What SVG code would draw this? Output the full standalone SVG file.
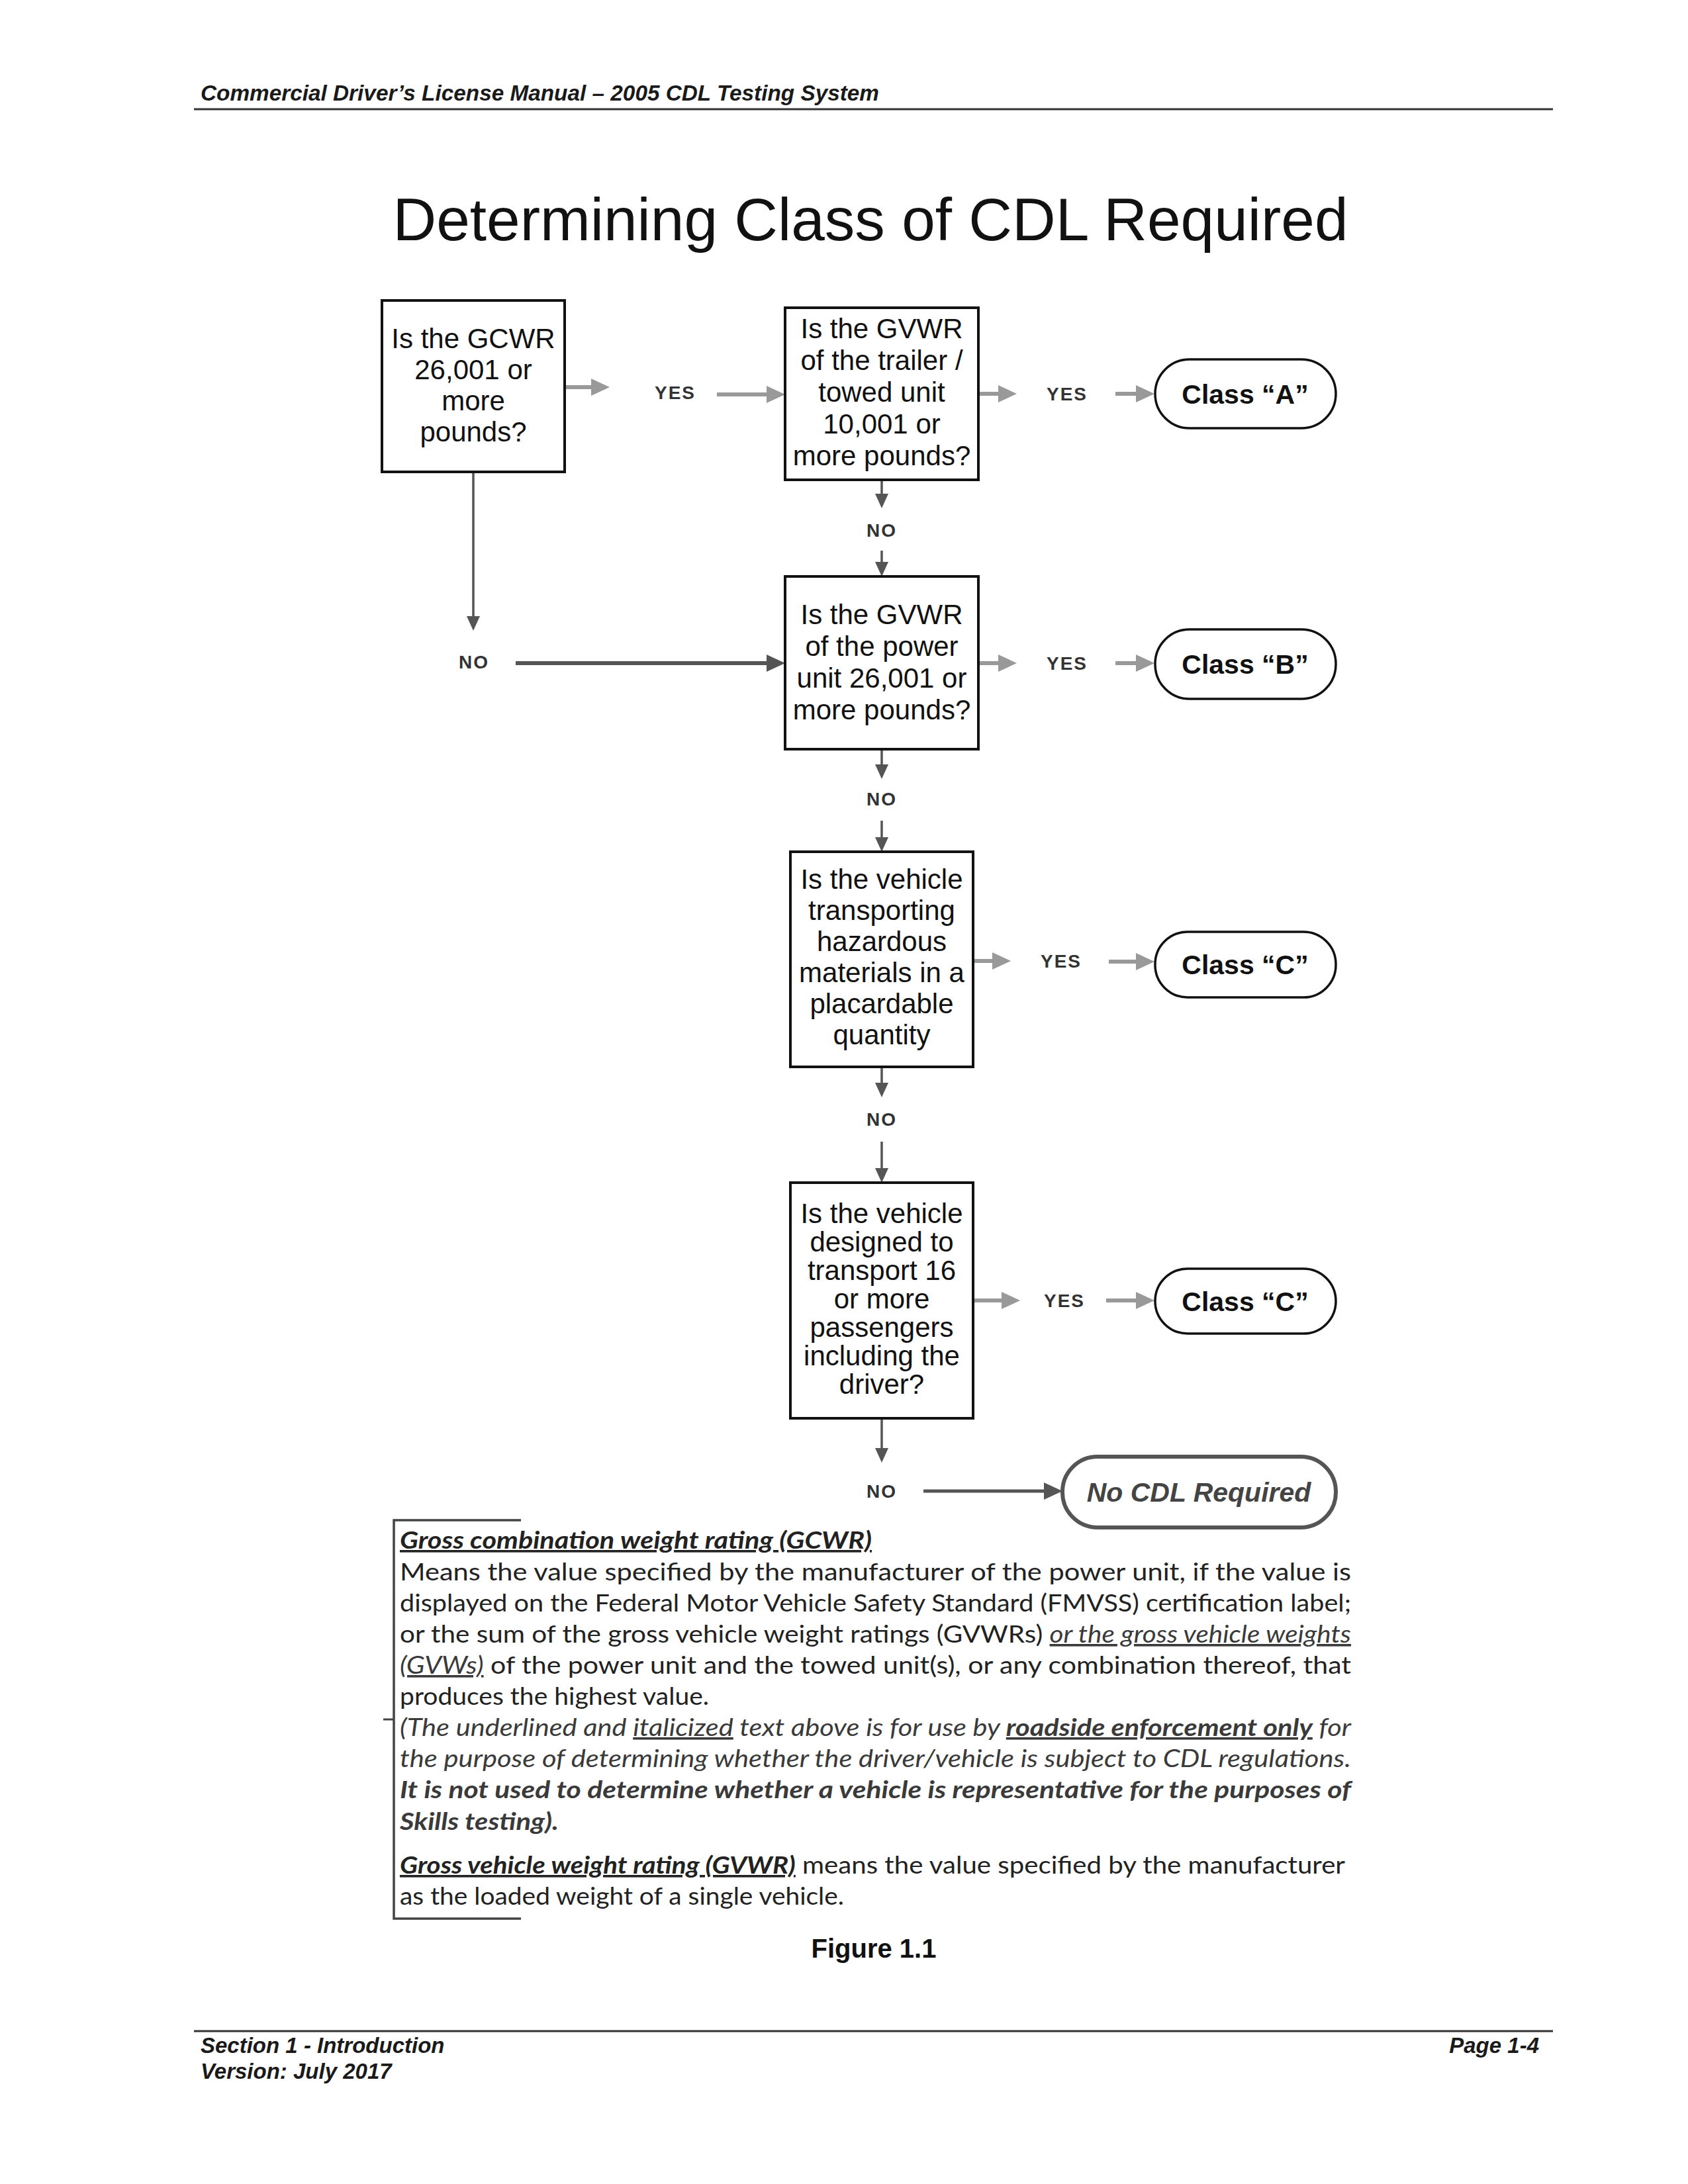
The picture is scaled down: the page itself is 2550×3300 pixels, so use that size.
<svg xmlns="http://www.w3.org/2000/svg" width="2550" height="3300" viewBox="0 0 2550 3300">
<style>
.hdr{font-family:'Liberation Sans',Arial,sans-serif;font-weight:bold;font-style:italic;font-size:33px;fill:#1a1a1a}
.title{font-family:'Liberation Sans',Arial,sans-serif;font-size:91px;fill:#111;text-anchor:middle}
.box{fill:#fff;stroke:#111;stroke-width:4}
.term{fill:#fff;stroke:#111;stroke-width:3.5}
.bt{font-family:'Liberation Sans',Arial,sans-serif;font-size:42px;fill:#111;text-anchor:middle}
.tt{font-family:'Liberation Sans',Arial,sans-serif;font-size:41px;font-weight:bold;fill:#111;text-anchor:middle}
.lbl{font-family:'Liberation Sans',Arial,sans-serif;font-size:28px;font-weight:bold;fill:#333;letter-spacing:2px;text-anchor:middle}
.yes{stroke:#999;stroke-width:6;fill:none;marker-end:url(#hg)}
.no{stroke:#555;stroke-width:3.5;fill:none;marker-end:url(#hd)}
.nob{stroke:#555;stroke-width:6;fill:none;marker-end:url(#hd2)}
.tb{font-family:Lato,'Open Sans',sans-serif;font-size:36px;fill:#222}
.i{font-style:italic;fill:#3a3a3a}
.b{font-weight:bold}
.u{text-decoration:underline}
.rule{stroke:#333;stroke-width:3}
</style>
<defs>
<marker id="hg" markerUnits="userSpaceOnUse" markerWidth="30" markerHeight="28" refX="6" refY="13" orient="auto"><path d="M0,0 L28,13 L0,26 z" fill="#999"/></marker>
<marker id="hd" markerUnits="userSpaceOnUse" markerWidth="24" markerHeight="22" refX="4" refY="10" orient="auto"><path d="M0,0 L22,10 L0,20 z" fill="#555"/></marker>
<marker id="hd2" markerUnits="userSpaceOnUse" markerWidth="30" markerHeight="28" refX="6" refY="13" orient="auto"><path d="M0,0 L28,13 L0,26 z" fill="#555"/></marker>
</defs>
<rect width="2550" height="3300" fill="#fff"/>

<g id="header">
<text class="hdr" x="303" y="152" textLength="1025" lengthAdjust="spacingAndGlyphs">Commercial Driver’s License Manual – 2005 CDL Testing System</text>
<line class="rule" x1="293" y1="165" x2="2346" y2="165"/>
</g>
<text class="title" x="1315" y="363" textLength="1443" lengthAdjust="spacingAndGlyphs">Determining Class of CDL Required</text>

<g id="connectors">
<line class="yes" x1="853" y1="585" x2="899" y2="585"/>
<line class="yes" x1="1083" y1="596" x2="1164" y2="596"/>
<line class="yes" x1="1479" y1="595" x2="1514" y2="595"/>
<line class="yes" x1="1685" y1="595" x2="1722" y2="595"/>
<line class="yes" x1="1479" y1="1002" x2="1514" y2="1002"/>
<line class="yes" x1="1685" y1="1002" x2="1722" y2="1002"/>
<line class="yes" x1="1471" y1="1452" x2="1505" y2="1452"/>
<line class="yes" x1="1675" y1="1453" x2="1722" y2="1453"/>
<line class="yes" x1="1471" y1="1965" x2="1519" y2="1965"/>
<line class="yes" x1="1671" y1="1965" x2="1722" y2="1965"/>
<line class="no" x1="715" y1="713" x2="715" y2="935"/>
<line class="no" x1="1332" y1="725" x2="1332" y2="750"/>
<line class="no" x1="1332" y1="832" x2="1332" y2="853"/>
<line class="no" x1="1332" y1="1132" x2="1332" y2="1159"/>
<line class="no" x1="1332" y1="1240" x2="1332" y2="1269"/>
<line class="no" x1="1332" y1="1612" x2="1332" y2="1640"/>
<line class="no" x1="1332" y1="1725" x2="1332" y2="1769"/>
<line class="no" x1="1332" y1="2143" x2="1332" y2="2192"/>
<line class="nob" x1="779" y1="1002" x2="1164" y2="1002"/>
<line class="nob" x1="1395" y1="2253" x2="1583" y2="2253" style="stroke-width:5"/>
<text class="lbl" x="1020" y="603">YES</text>
<text class="lbl" x="1612" y="605">YES</text>
<text class="lbl" x="1612" y="1012">YES</text>
<text class="lbl" x="1603" y="1462">YES</text>
<text class="lbl" x="1608" y="1975">YES</text>
<text class="lbl" x="716" y="1010">NO</text>
<text class="lbl" x="1332" y="811">NO</text>
<text class="lbl" x="1332" y="1217">NO</text>
<text class="lbl" x="1332" y="1701">NO</text>
<text class="lbl" x="1332" y="2263">NO</text>
</g>

<g id="q-gcwr">
<rect class="box" x="577" y="454" width="276" height="259"/>
<text class="bt" x="715" y="526">Is the GCWR</text>
<text class="bt" x="715" y="573">26,001 or</text>
<text class="bt" x="715" y="620">more</text>
<text class="bt" x="715" y="667">pounds?</text>
</g>
<g id="q-trailer">
<rect class="box" x="1186" y="465" width="292" height="260"/>
<text class="bt" x="1332" y="511">Is the GVWR</text>
<text class="bt" x="1332" y="559">of the trailer /</text>
<text class="bt" x="1332" y="607">towed unit</text>
<text class="bt" x="1332" y="655">10,001 or</text>
<text class="bt" x="1332" y="703">more pounds?</text>
</g>
<g id="q-power">
<rect class="box" x="1186" y="871" width="292" height="261"/>
<text class="bt" x="1332" y="943">Is the GVWR</text>
<text class="bt" x="1332" y="991">of the power</text>
<text class="bt" x="1332" y="1039">unit 26,001 or</text>
<text class="bt" x="1332" y="1087">more pounds?</text>
</g>
<g id="q-hazmat">
<rect class="box" x="1194" y="1287" width="276" height="325"/>
<text class="bt" x="1332" y="1343">Is the vehicle</text>
<text class="bt" x="1332" y="1390">transporting</text>
<text class="bt" x="1332" y="1437">hazardous</text>
<text class="bt" x="1332" y="1484">materials in a</text>
<text class="bt" x="1332" y="1531">placardable</text>
<text class="bt" x="1332" y="1578">quantity</text>
</g>
<g id="q-passengers">
<rect class="box" x="1194" y="1787" width="276" height="356"/>
<text class="bt" x="1332" y="1848">Is the vehicle</text>
<text class="bt" x="1332" y="1891">designed to</text>
<text class="bt" x="1332" y="1934">transport 16</text>
<text class="bt" x="1332" y="1977">or more</text>
<text class="bt" x="1332" y="2020">passengers</text>
<text class="bt" x="1332" y="2063">including the</text>
<text class="bt" x="1332" y="2106">driver?</text>
</g>

<g id="class-a">
<rect class="term" x="1745" y="543" width="273" height="104" rx="52"/>
<text class="tt" x="1881" y="610">Class “A”</text>
</g>
<g id="class-b">
<rect class="term" x="1745" y="951" width="273" height="105" rx="52"/>
<text class="tt" x="1881" y="1018">Class “B”</text>
</g>
<g id="class-c1">
<rect class="term" x="1745" y="1408" width="273" height="99" rx="49"/>
<text class="tt" x="1881" y="1472">Class “C”</text>
</g>
<g id="class-c2">
<rect class="term" x="1745" y="1917" width="273" height="98" rx="49"/>
<text class="tt" x="1881" y="1981">Class “C”</text>
</g>
<g id="no-cdl">
<rect x="1605" y="2201" width="413" height="107" rx="53" fill="#fff" stroke="#555" stroke-width="6"/>
<text class="tt" x="1811" y="2269" style="font-style:italic;fill:#444">No CDL Required</text>
</g>

<g id="definitions">
<path d="M787,2297 H595 V2899 H787" fill="none" stroke="#444" stroke-width="3.5"/>
<line x1="579" y1="2598" x2="595" y2="2598" stroke="#444" stroke-width="3"/>
<text class="tb" x="604" y="2340" textLength="713" lengthAdjust="spacingAndGlyphs"><tspan class="b i u" style="fill:#222">Gross combination weight rating (GCWR)</tspan></text>
<text class="tb" x="604" y="2388" textLength="1437" lengthAdjust="spacingAndGlyphs">Means the value specified by the manufacturer of the power unit, if the value is</text>
<text class="tb" x="604" y="2435" textLength="1437" lengthAdjust="spacingAndGlyphs">displayed on the Federal Motor Vehicle Safety Standard (FMVSS) certification label;</text>
<text class="tb" x="604" y="2482" textLength="1437" lengthAdjust="spacingAndGlyphs">or the sum of the gross vehicle weight ratings (GVWRs) <tspan class="i u">or the gross vehicle weights</tspan></text>
<text class="tb" x="604" y="2529" textLength="1437" lengthAdjust="spacingAndGlyphs"><tspan class="i u">(GVWs)</tspan> of the power unit and the towed unit(s), or any combination thereof, that</text>
<text class="tb" x="604" y="2576" textLength="467" lengthAdjust="spacingAndGlyphs">produces the highest value.</text>
<text class="tb i" x="604" y="2623" textLength="1437" lengthAdjust="spacingAndGlyphs">(The underlined and <tspan class="u">italicized</tspan> text above is for use by <tspan class="b u">roadside enforcement only</tspan> for</text>
<text class="tb i" x="604" y="2670" textLength="1437" lengthAdjust="spacingAndGlyphs">the purpose of determining whether the driver/vehicle is subject to CDL regulations.</text>
<text class="tb i b" x="604" y="2717" textLength="1437" lengthAdjust="spacingAndGlyphs">It is not used to determine whether a vehicle is representative for the purposes of</text>
<text class="tb i b" x="604" y="2765" textLength="240" lengthAdjust="spacingAndGlyphs">Skills testing).</text>
<text class="tb" x="604" y="2831" textLength="1428" lengthAdjust="spacingAndGlyphs"><tspan class="b i u" style="fill:#222">Gross vehicle weight rating (GVWR)</tspan> means the value specified by the manufacturer</text>
<text class="tb" x="604" y="2878" textLength="671" lengthAdjust="spacingAndGlyphs">as the loaded weight of a single vehicle.</text>
</g>

<text x="1320" y="2958" style="font-family:'Liberation Sans',Arial,sans-serif;font-size:40px;font-weight:bold;fill:#111;text-anchor:middle">Figure 1.1</text>

<g id="footer">
<line class="rule" x1="293" y1="3069" x2="2346" y2="3069"/>
<text class="hdr" x="303" y="3102">Section 1 - Introduction</text>
<text class="hdr" x="303" y="3141">Version: July 2017</text>
<text class="hdr" x="2325" y="3102" style="text-anchor:end">Page 1-4</text>
</g>
</svg>
